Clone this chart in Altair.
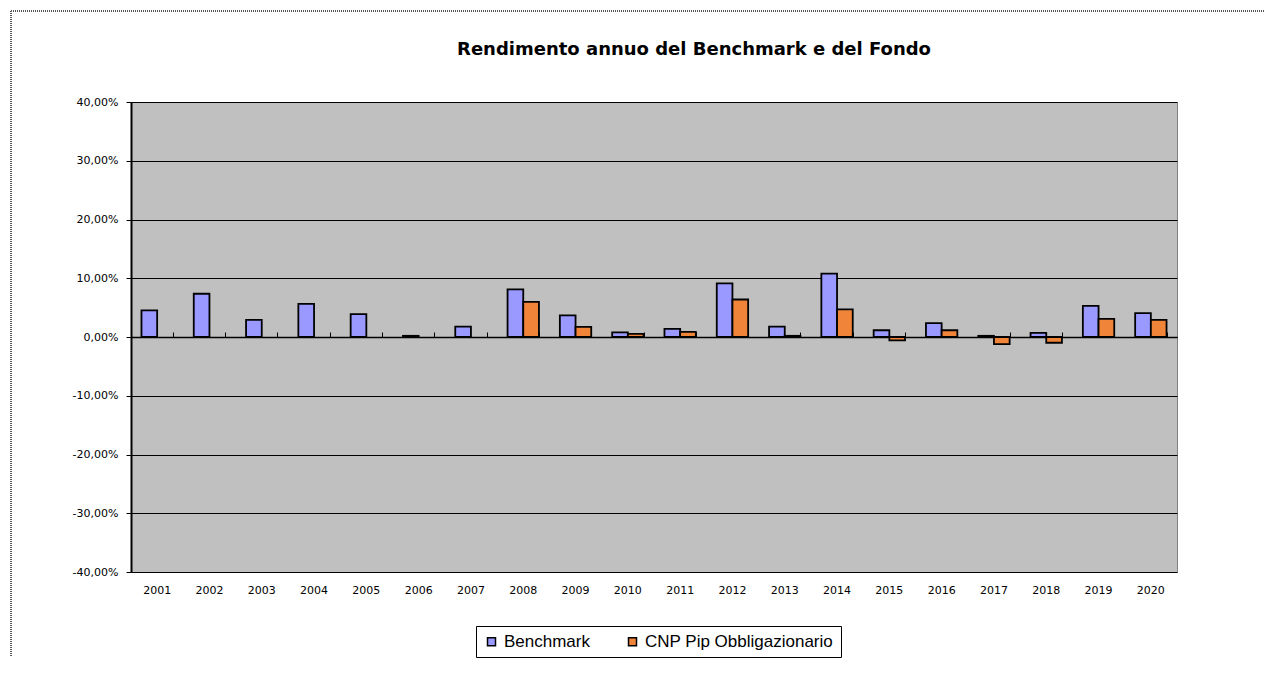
import altair as alt
import pandas as pd

years = [str(y) for y in range(2001, 2021)]
benchmark = [4.54, 7.36, 2.93, 5.63, 3.90, 0.20, 1.78, 8.10, 3.68, 0.80,
             1.38, 9.14, 1.78, 10.80, 1.15, 2.36, 0.20, 0.69, 5.29, 4.08]
fondo = [None, None, None, None, None, None, None, 5.98, 1.72, 0.52,
         0.86, 6.38, 0.20, 4.71, -0.57, 1.15, -1.20, -0.98, 3.10, 2.93]
series_names = ["Benchmark", "CNP Pip Obbligazionario"]
series_colors = ["#9999FF", "#F0853A"]
y_ticks = [-40, -30, -20, -10, 0, 10, 20, 30, 40]
title_text = "Rendimento annuo del Benchmark e del Fondo"

rows = []
for yr, b, f in zip(years, benchmark, fondo):
    rows.append({"anno": yr, "serie": series_names[0], "valore": b})
    if f is not None:
        rows.append({"anno": yr, "serie": series_names[1], "valore": f})
df = pd.DataFrame(rows)

W, H = 1046, 470
FONT = "DejaVu Sans"

xscale = alt.Scale(domain=years, paddingInner=0.4, paddingOuter=0.2)
yscale = alt.Scale(domain=[-40, 40], nice=False)
label_expr = "replace(replace(format(datum.value/100, '.2%'), '.', ','), '\u2212', '-')"

bars = alt.Chart(df).mark_bar(stroke="black", strokeWidth=1.8).encode(
    x=alt.X("anno:N", scale=xscale, sort=years,
            axis=alt.Axis(title=None, labelAngle=0, ticks=False, domain=False,
                          labelFont=FONT, labelFontSize=11, labelColor="black",
                          labelPadding=12)),
    xOffset=alt.XOffset("serie:N", scale=alt.Scale(domain=series_names)),
    y=alt.Y("valore:Q", scale=yscale,
            axis=alt.Axis(title=None, values=y_ticks, labelExpr=label_expr,
                          grid=True, gridColor="black", gridWidth=1, gridOpacity=1,
                          domainColor="black", domainWidth=2, tickColor="black",
                          tickSize=5, labelFont=FONT, labelFontSize=11,
                          labelColor="black", labelPadding=8)),
    color=alt.Color("serie:N", scale=alt.Scale(domain=series_names, range=series_colors),
                    legend=alt.Legend(title=None, orient="none", direction="horizontal",
                                      legendX=345, legendY=524,
                                      symbolType="square", symbolSize=64,
                                      symbolStrokeColor="black", symbolStrokeWidth=1.5,
                                      labelFont="Liberation Sans", labelFontSize=17,
                                      labelColor="black", labelOffset=4, labelLimit=400,
                                      columnPadding=34, padding=7,
                                      strokeColor="black", fillColor="white")),
)

zero = alt.Chart(df).mark_rule(color="black", strokeWidth=1, opacity=0).encode(
    x=alt.X("anno:N", scale=xscale, sort=years,
            axis=alt.Axis(title=None, labels=False, offset=-H / 2, tickBand="extent",
                          domainColor="black", domainWidth=1.5, tickColor="black",
                          tickSize=5, grid=False)),
    y=alt.datum(0),
)

border_top = alt.Chart(df).mark_rule(color="#555555", strokeDash=[1, 1], strokeWidth=1).encode(
    x=alt.value(-120), x2=alt.value(1133), y=alt.value(-91)
)
border_left = alt.Chart(df).mark_rule(color="#555555", strokeDash=[1, 1], strokeWidth=1).encode(
    x=alt.value(-120), y=alt.value(-91), y2=alt.value(554)
)

title = alt.Chart(pd.DataFrame({"t": [title_text]})).mark_text(
    font=FONT, fontSize=18, fontWeight="bold", color="black",
    align="center", baseline="alphabetic"
).encode(text="t:N", x=alt.value(563), y=alt.value(-47))

chart = alt.layer(bars, zero, border_top, border_left, title).resolve_axis(x="independent").properties(
    width=W, height=H, padding=2, background="white",
).configure_view(fill="#C0C0C0", stroke="#808080", strokeWidth=1)

chart.save("out.html", embed_options={"renderer": "svg", "actions": False})
